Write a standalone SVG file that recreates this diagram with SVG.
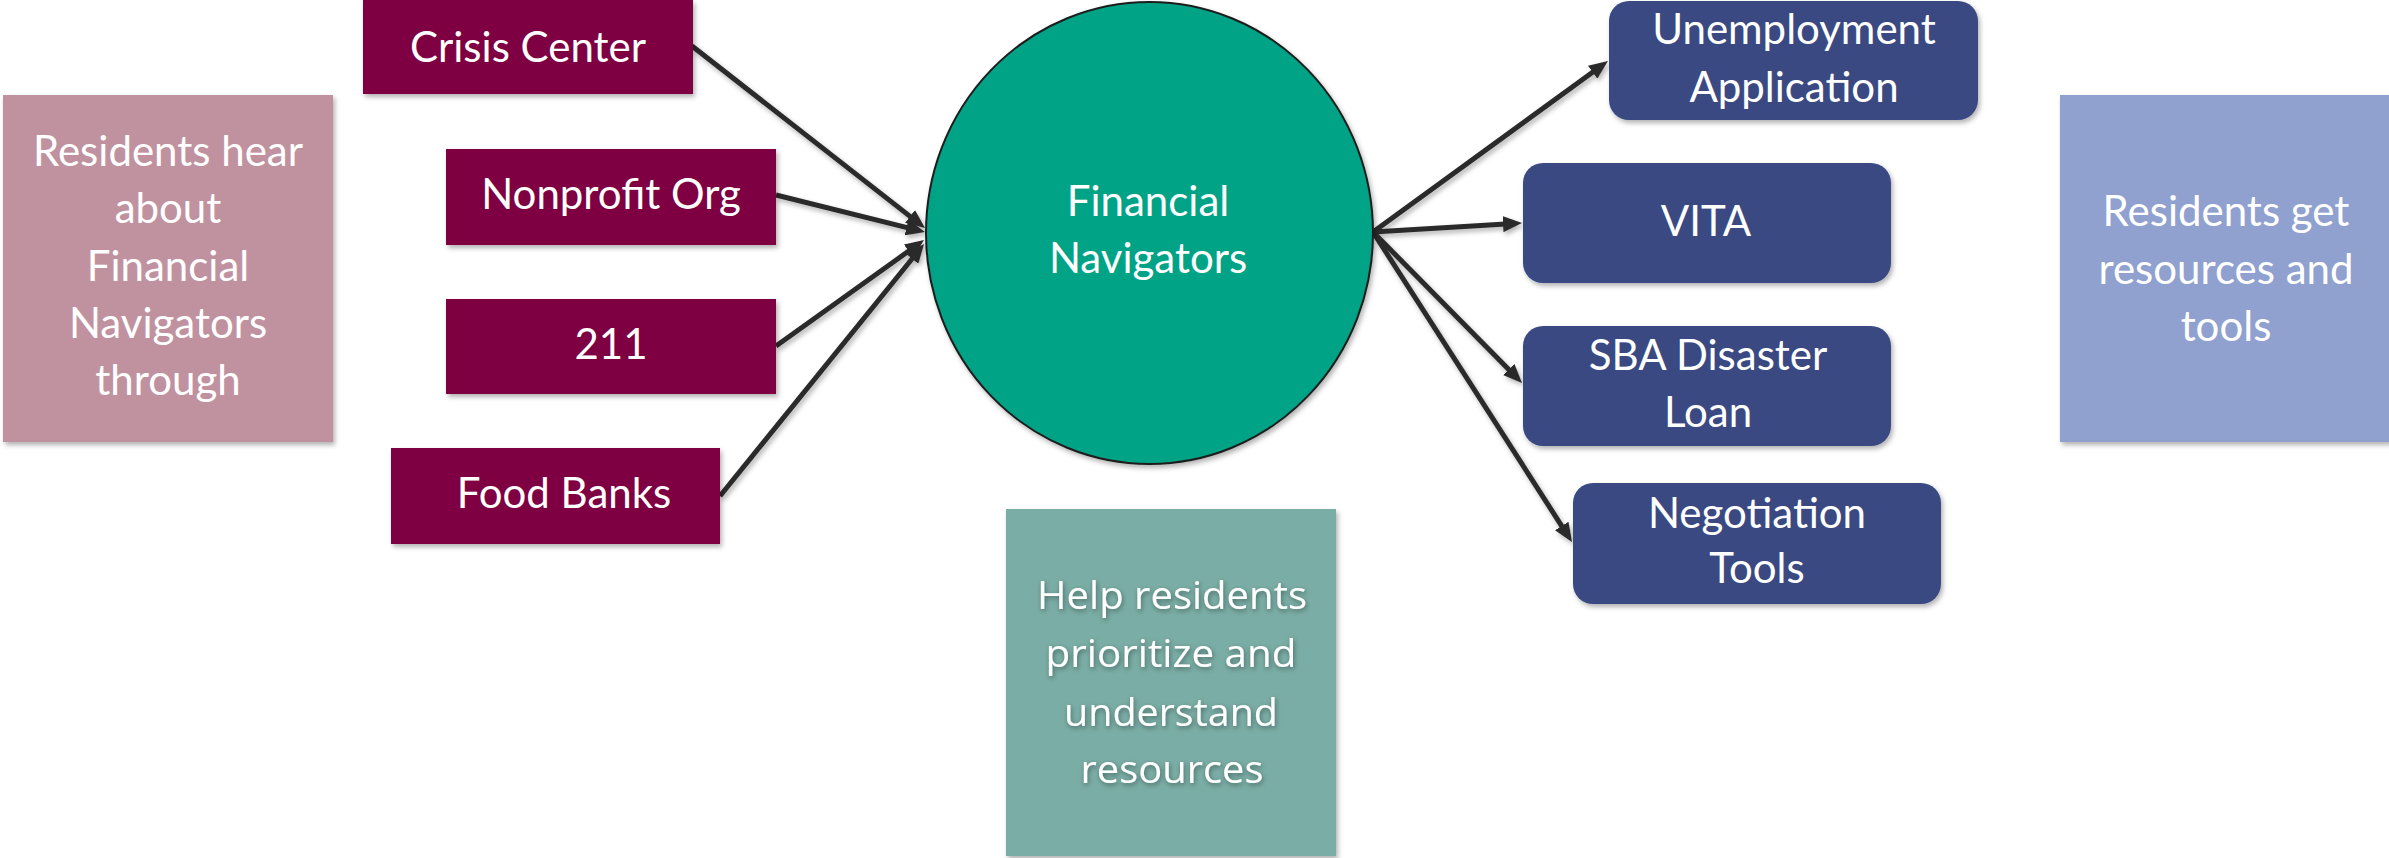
<svg xmlns="http://www.w3.org/2000/svg" width="2389" height="858" viewBox="0 0 2389 858">
<style>
.t{font-family:Lato,"Open Sans","Liberation Sans",sans-serif;font-size:42px;fill:#ffffff;text-anchor:middle}
.h{font-family:"Open Sans",Lato,"Liberation Sans",sans-serif;font-size:38px;fill:#ffffff;text-anchor:middle}
.src{fill:#7E0042}
.dst{fill:#3A4A82}
.ln{stroke:#2B2B2B;stroke-width:5;fill:none;marker-end:url(#ah)}
</style>
<defs>
<filter id="sh" x="-10%" y="-10%" width="125%" height="130%">
<feDropShadow dx="2" dy="3" stdDeviation="2.5" flood-color="#000" flood-opacity="0.3"/>
</filter>
<filter id="tsh" x="-10%" y="-20%" width="120%" height="150%">
<feDropShadow dx="1" dy="2" stdDeviation="2.5" flood-color="#000" flood-opacity="0.4"/>
</filter>
<marker id="ah" markerUnits="userSpaceOnUse" markerWidth="19" markerHeight="16" viewBox="0 0 19 16" refX="11" refY="8" orient="auto">
<path d="M0,0 L19,8 L0,16 z" fill="#2B2B2B"/>
</marker>
</defs>

<g id="connectors" filter="url(#sh)">
<line class="ln" x1="692" y1="46" x2="918.7" y2="223.1"/>
<line class="ln" x1="776" y1="195" x2="917.2" y2="230.1"/>
<line class="ln" x1="776" y1="346" x2="917.5" y2="244.7"/>
<line class="ln" x1="720" y1="496" x2="919" y2="250.2"/>
<line class="ln" x1="1373" y1="232" x2="1601.5" y2="65.7"/>
<line class="ln" x1="1373" y1="232" x2="1514" y2="223.5"/>
<line class="ln" x1="1373" y1="232" x2="1516.4" y2="377.3"/>
<line class="ln" x1="1373" y1="232" x2="1567.7" y2="535.3"/>
</g>

<g id="residents-hear">
<rect x="3" y="95" width="330" height="347" fill="#C0929F" filter="url(#sh)"/>
<text class="t" x="168" y="166">Residents hear</text>
<text class="t" x="168" y="223">about</text>
<text class="t" x="168" y="281">Financial</text>
<text class="t" x="168" y="338">Navigators</text>
<text class="t" x="168" y="395">through</text>
</g>

<g id="crisis-center">
<rect class="src" x="363" y="0" width="330" height="94" filter="url(#sh)"/>
<text class="t" x="528" y="62">Crisis Center</text>
</g>

<g id="nonprofit-org">
<rect class="src" x="446" y="149" width="330" height="96" filter="url(#sh)"/>
<text class="t" x="611" y="209">Nonprofit Org</text>
</g>

<g id="n211">
<rect class="src" x="446" y="299" width="330" height="95" filter="url(#sh)"/>
<text class="t" x="611" y="359">211</text>
</g>

<g id="food-banks">
<rect class="src" x="391" y="448" width="329" height="96" filter="url(#sh)"/>
<text class="t" x="564" y="508">Food Banks</text>
</g>

<g id="financial-navigators">
<ellipse cx="1149.5" cy="233" rx="223.5" ry="231" fill="#00A386" stroke="#1E1E1E" stroke-width="2" filter="url(#sh)"/>
<text class="t" x="1148" y="216">Financial</text>
<text class="t" x="1148" y="273">Navigators</text>
</g>

<g id="help-residents">
<rect x="1006" y="509" width="330" height="347" fill="#7AADA5" filter="url(#sh)"/>
<g filter="url(#tsh)">
<text class="h" x="1172" y="609" textLength="270" lengthAdjust="spacingAndGlyphs">Help residents</text>
<text class="h" x="1171" y="667" textLength="251" lengthAdjust="spacingAndGlyphs">prioritize and</text>
<text class="h" x="1171" y="726" textLength="214" lengthAdjust="spacingAndGlyphs">understand</text>
<text class="h" x="1172" y="783" textLength="183" lengthAdjust="spacingAndGlyphs">resources</text>
</g>
</g>

<g id="unemployment">
<rect class="dst" x="1609" y="1" width="369" height="119" rx="20" filter="url(#sh)"/>
<text class="t" x="1794" y="44">Unemployment</text>
<text class="t" x="1794" y="102">Application</text>
</g>

<g id="vita">
<rect class="dst" x="1523" y="163" width="368" height="120" rx="20" filter="url(#sh)"/>
<text class="t" x="1706" y="236">VITA</text>
</g>

<g id="sba">
<rect class="dst" x="1523" y="326" width="368" height="120" rx="20" filter="url(#sh)"/>
<text class="t" x="1708" y="370">SBA Disaster</text>
<text class="t" x="1708" y="427">Loan</text>
</g>

<g id="negotiation">
<rect class="dst" x="1573" y="483" width="368" height="121" rx="20" filter="url(#sh)"/>
<text class="t" x="1757" y="528">Negotiation</text>
<text class="t" x="1757" y="583">Tools</text>
</g>

<g id="residents-get">
<rect x="2060" y="95" width="332" height="347" fill="#91A1CF" filter="url(#sh)"/>
<text class="t" x="2226" y="226">Residents get</text>
<text class="t" x="2226" y="284">resources and</text>
<text class="t" x="2226" y="341">tools</text>
</g>
</svg>
